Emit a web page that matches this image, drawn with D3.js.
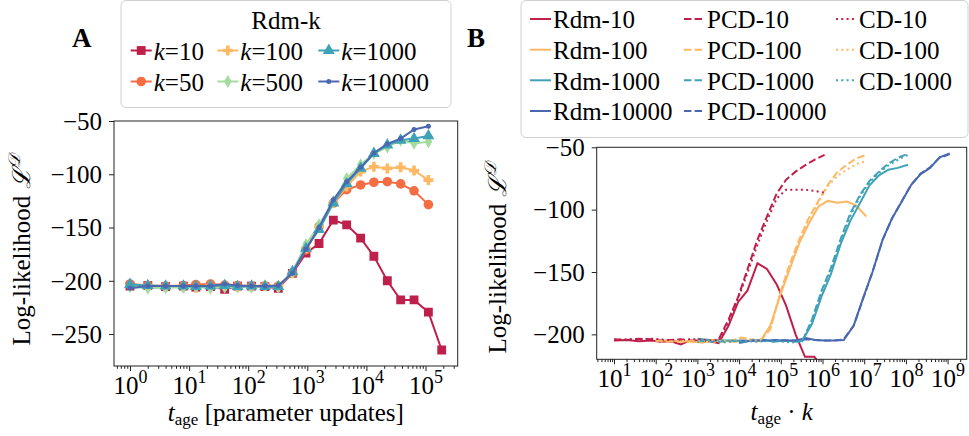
<!DOCTYPE html>
<html>
<head>
<meta charset="utf-8">
<script src="https://cdnjs.cloudflare.com/ajax/libs/d3/7.8.5/d3.min.js"></script>
<style>
  body { margin: 0; background: #fff; }
  svg text { font-family: "Liberation Serif", "Times New Roman", serif; fill: #000; }
</style>
</head>
<body>
<svg id="chart" width="969" height="436"></svg>
<script>
// ---- data ----
const tAge = [1, 2, 4, 8, 13, 23, 40, 66, 114, 192, 323, 560, 950, 1580, 2760, 4640, 7990, 13400, 22600, 38000, 64000, 112000, 188000];
const kValues = [10, 50, 100, 500, 1000, 10000];

const rdm10 = [-205, -204.5, -205.5, -205, -206, -205.5, -208, -205, -205, -205.5, -207, -193, -174, -165, -143, -147.5, -160, -177, -200, -218, -218, -229.5, -265];
const rdm50 = [-203, -204.5, -205, -204.5, -203.5, -203, -204, -204.5, -205, -204.5, -205, -192.5, -171, -149, -127, -114.5, -110, -107.5, -107, -109, -115.5, -128.5];
const rdm100 = [-205, -205, -205.5, -206, -206.5, -205, -205, -206, -205.5, -205, -205.5, -193, -169.5, -149, -127, -111.5, -97.5, -93, -94.5, -93.5, -96.5, -105.5];
const rdm500 = [-205.5, -207, -206.5, -206, -205.5, -207, -206, -205.5, -206, -204.5, -206, -191.5, -166, -147.5, -125.5, -104, -91, -80.5, -74.5, -68, -71, -69.5];
const rdm1000 = [-203.5, -204.5, -205, -205, -205.5, -205, -204.5, -205.5, -205, -205.5, -205.5, -191.5, -169.5, -152, -127, -109, -94.5, -80.5, -72.5, -68, -66.5, -64];
const rdm10000 = [-207, -205, -205, -205, -205, -205, -203, -204.5, -205, -205, -204.5, -193, -170.5, -150, -124, -107, -93.5, -80, -71.5, -66.5, -58, -55];

const pcd10 = [-204, -204.5, -203.5, -204, -205, -204.5, -204, -205, -205.5, -205, -204, -188, -170, -148, -124, -105.5, -87, -76, -69.5, -64.5, -60, -56];
const cd10 = [-204.5, -204, -204, -203.5, -204, -205, -204.5, -204, -204, -205, -205, -190, -171, -151, -128, -109, -91, -84, -84, -84, -85, -86.5];
const pcd100 = [-205, -205.5, -206, -205, -206.5, -204.5, -206, -205, -202.5, -204, -205, -196, -168, -145, -124, -107, -93, -80, -70, -64, -59, -56];
const cd100 = [-205.5, -206, -205, -206, -205, -206.5, -205, -206, -203, -205, -204.5, -195, -168, -146, -125, -108, -94, -81, -73, -68, -63.5, -61];
const pcd1000 = [-205, -206, -205.5, -205, -206, -204.5, -205, -206, -205, -205.5, -206, -188, -165, -147, -123, -103, -88, -77, -69.5, -63, -58.5, -55];
const cd1000 = [-206, -205, -206.5, -205.5, -205, -206, -205.5, -205, -206, -206.5, -205, -190, -166, -149, -125, -105, -89, -78, -70.5, -64.5, -60, -56];
const pcd10000 = [-205, -205, -205, -204.5, -205, -205, -204, -204.5, -205, -205, -204, -193, -171, -150, -124.5, -107, -93, -80, -71, -66, -58.5, -55.5];

const yTicksA = [-250, -200, -150, -100, -50];
const yTicksB = [-200, -150, -100, -50];
const expTicksA = [0, 1, 2, 3, 4, 5];
const expTicksB = [1, 2, 3, 4, 5, 6, 7, 8, 9];

const colors = ['#be1f4b', '#f46d43', '#fdb863', '#a6db9f', '#3fa2b7', '#4a68b0'];
const markers = ['square', 'circle', 'plus', 'diamond', 'triangle', 'dot'];

const rdmSeries = [rdm10, rdm50, rdm100, rdm500, rdm1000, rdm10000];

const svg = d3.select('#chart');

// ---- helpers ----
function markerPath(type) {
    if (type === 'square') return d3.symbol(d3.symbolSquare, 78)();
    if (type === 'circle') return d3.symbol(d3.symbolCircle, 72)();
    if (type === 'triangle') return d3.symbol(d3.symbolTriangle, 62)();
    if (type === 'dot') return d3.symbol(d3.symbolCircle, 20)();
    if (type === 'diamond') return 'M0,-6.5L3.8,0L0,6.5L-3.8,0Z';
    // filled plus ("P")
    const a = 5, b = 1.8;
    return `M${-b},${-a}H${b}V${-b}H${a}V${b}H${b}V${a}H${-b}V${b}H${-a}V${-b}H${-b}Z`;
}

function drawFrame(p) {
    svg.append('rect')
        .attr('x', p.left).attr('y', p.top)
        .attr('width', p.right - p.left).attr('height', p.bottom - p.top)
        .attr('fill', 'none').attr('stroke', '#222').attr('stroke-width', 1);
}

function logAxis(p, x, exps) {
    const lo = x.domain()[0], hi = x.domain()[1];
    const minors = [];
    for (let e = Math.floor(Math.log10(lo)); e <= Math.ceil(Math.log10(hi)); e++) {
        for (let m = 2; m <= 9; m++) {
            const v = m * Math.pow(10, e);
            if (v >= lo && v <= hi) minors.push(v);
        }
    }
    const gMin = svg.append('g').attr('transform', `translate(0,${p.bottom})`)
        .call(d3.axisBottom(x).tickValues(minors).tickSize(2.8).tickFormat(''));
    gMin.select('.domain').remove();

    const g = svg.append('g').attr('transform', `translate(0,${p.bottom})`)
        .call(d3.axisBottom(x).tickValues(exps.map(e => Math.pow(10, e))).tickSize(5));
    g.attr('font-family', null).attr('font-size', null);
    g.select('.domain').remove();
    g.selectAll('.tick text').each(function (d) {
        const t = d3.select(this);
        const e = Math.round(Math.log10(d));
        t.text(null).attr('y', 28).attr('dy', null)
            .attr('font-size', 25).attr('fill', '#000');
        t.append('tspan').text('10');
        t.append('tspan').attr('dy', -11).attr('font-size', 18).text(e);
    });
    svg.selectAll('.tick line').attr('stroke', '#222');
}

function yAxis(p, y, ticks) {
    const g = svg.append('g').attr('transform', `translate(${p.left},0)`)
        .call(d3.axisLeft(y).tickValues(ticks).tickSize(5).tickPadding(7).tickFormat(d3.format('d')));
    g.attr('font-family', null).attr('font-size', null);
    g.select('.domain').remove();
    g.selectAll('.tick text').attr('font-size', 25).attr('fill', '#000').attr('dy', '0.33em');
    g.selectAll('.tick line').attr('stroke', '#222');
}

function yLabel(x, yc) {
    const t = svg.append('text')
        .attr('transform', `translate(${x},${yc}) rotate(-90)`)
        .attr('text-anchor', 'middle').attr('font-size', 25);
    t.append('tspan').text('Log-likelihood ');
    t.append('tspan').attr('font-style', 'italic').text('\u2112');
    t.append('tspan').attr('dy', -10).attr('font-size', 17).attr('font-style', 'italic').text('\uD835\uDC9F');
}

// ---- panel A ----
const pA = { left: 114, right: 457.7, top: 121, bottom: 366 };
const xA = d3.scaleLog().domain([Math.pow(10, -0.2707), Math.pow(10, 5.545)]).range([pA.left, pA.right]);
const yA = d3.scaleLinear().domain([-280, -50]).range([pA.bottom, pA.top]);

svg.append('clipPath').attr('id', 'clipA').append('rect')
    .attr('x', pA.left).attr('y', pA.top).attr('width', pA.right - pA.left).attr('height', pA.bottom - pA.top);

const gA = svg.append('g').attr('clip-path', 'url(#clipA)');
const lineA = d3.line().x(d => xA(d[0])).y(d => yA(d[1]));

rdmSeries.forEach((vals, i) => {
    const pts = vals.map((v, j) => [tAge[j], v]);
    const g = gA.append('g');
    g.append('path').attr('d', lineA(pts)).attr('fill', 'none')
        .attr('stroke', colors[i]).attr('stroke-width', 2);
    g.selectAll('path.m').data(pts).enter().append('path')
        .attr('class', 'm')
        .attr('d', markerPath(markers[i]))
        .attr('transform', d => `translate(${xA(d[0])},${yA(d[1])})`)
        .attr('fill', colors[i]);
});

drawFrame(pA);
logAxis(pA, xA, expTicksA);
yAxis(pA, yA, yTicksA);
yLabel(30, 250);

const xlA = svg.append('text').attr('x', (pA.left + pA.right) / 2).attr('y', 421)
    .attr('text-anchor', 'middle').attr('font-size', 25);
xlA.append('tspan').attr('font-style', 'italic').text('t');
xlA.append('tspan').attr('font-size', 17).attr('dy', 4).text('age');
xlA.append('tspan').attr('dy', -4).text(' [parameter updates]');

svg.append('text').attr('x', 72).attr('y', 47).attr('font-size', 27).attr('font-weight', 'bold').text('A');

// legend A
svg.append('rect').attr('x', 121).attr('y', 0.5).attr('width', 330).attr('height', 107).attr('rx', 5)
    .attr('fill', '#fff').attr('fill-opacity', 0.8).attr('stroke', '#d0d0d0');
svg.append('text').attr('x', 286).attr('y', 28.5).attr('text-anchor', 'middle').attr('font-size', 25).text('Rdm-k');
const legColsA = [130.7, 217.3, 318.3];
const legRowsA = [50.5, 81.5];
kValues.forEach((k, i) => {
    const cx = legColsA[Math.floor(i / 2)], cy = legRowsA[i % 2];
    svg.append('line').attr('x1', cx).attr('x2', cx + 21).attr('y1', cy).attr('y2', cy)
        .attr('stroke', colors[i]).attr('stroke-width', 2);
    svg.append('path').attr('d', markerPath(markers[i]))
        .attr('transform', `translate(${cx + 10.5},${cy})`).attr('fill', colors[i]);
    const t = svg.append('text').attr('x', cx + 23).attr('y', cy + 9.5).attr('font-size', 25);
    t.append('tspan').attr('font-style', 'italic').text('k');
    t.append('tspan').text('=' + k);
});

// ---- panel B ----
const pB = { left: 596.7, right: 966.7, top: 147.3, bottom: 359.3 };
const xB = d3.scaleLog().domain([Math.pow(10, 0.585), Math.pow(10, 9.458)]).range([pB.left, pB.right]);
const yB = d3.scaleLinear().domain([-220, -50]).range([pB.bottom, pB.top]);

svg.append('clipPath').attr('id', 'clipB').append('rect')
    .attr('x', pB.left).attr('y', pB.top).attr('width', pB.right - pB.left).attr('height', pB.bottom - pB.top);
const gB = svg.append('g').attr('clip-path', 'url(#clipB)');
const lineB = d3.line().x(d => xB(d[0])).y(d => yB(d[1]));

const dashes = { solid: null, dashed: '7.4,3.2', dotted: '2,3.3' };
const seriesB = [
    { name: 'Rdm-10', k: 10, vals: rdm10, color: colors[0], style: 'solid' },
    { name: 'Rdm-100', k: 100, vals: rdm100, color: colors[2], style: 'solid' },
    { name: 'Rdm-1000', k: 1000, vals: rdm1000, color: colors[4], style: 'solid' },
    { name: 'Rdm-10000', k: 10000, vals: rdm10000, color: colors[5], style: 'solid' },
    { name: 'PCD-10', k: 10, vals: pcd10, color: colors[0], style: 'dashed' },
    { name: 'PCD-100', k: 100, vals: pcd100, color: colors[2], style: 'dashed' },
    { name: 'PCD-1000', k: 1000, vals: pcd1000, color: colors[4], style: 'dashed' },
    { name: 'PCD-10000', k: 10000, vals: pcd10000, color: colors[5], style: 'dashed' },
    { name: 'CD-10', k: 10, vals: cd10, color: colors[0], style: 'dotted' },
    { name: 'CD-100', k: 100, vals: cd100, color: colors[2], style: 'dotted' },
    { name: 'CD-1000', k: 1000, vals: cd1000, color: colors[4], style: 'dotted' }
];

seriesB.forEach(s => {
    const pts = s.vals.map((v, j) => [tAge[j] * s.k, v]);
    gB.append('path').attr('d', lineB(pts)).attr('fill', 'none')
        .attr('stroke', s.color).attr('stroke-width', 2)
        .attr('stroke-dasharray', dashes[s.style]);
});

drawFrame(pB);
logAxis(pB, xB, expTicksB);
yAxis(pB, yB, yTicksB);
yLabel(506, 258);

const xlB = svg.append('text').attr('x', (pB.left + pB.right) / 2).attr('y', 420)
    .attr('text-anchor', 'middle').attr('font-size', 25);
xlB.append('tspan').attr('font-style', 'italic').text('t');
xlB.append('tspan').attr('font-size', 17).attr('dy', 4).text('age');
xlB.append('tspan').attr('dy', -4).text(' \u00B7 ');
xlB.append('tspan').attr('font-style', 'italic').text('k');

svg.append('text').attr('x', 467).attr('y', 47).attr('font-size', 27).attr('font-weight', 'bold').text('B');

// legend B
svg.append('rect').attr('x', 521).attr('y', 0.5).attr('width', 447).attr('height', 137).attr('rx', 5)
    .attr('fill', '#fff').attr('fill-opacity', 0.8).attr('stroke', '#d0d0d0');
const legColsB = [530, 684, 836];
const legRowsB = [19, 49.7, 80.3, 111];
seriesB.forEach((s, i) => {
    const cx = legColsB[Math.floor(i / 4)], cy = legRowsB[i % 4];
    svg.append('line').attr('x1', cx).attr('x2', cx + 21).attr('y1', cy).attr('y2', cy)
        .attr('stroke', s.color).attr('stroke-width', 2)
        .attr('stroke-dasharray', dashes[s.style]);
    svg.append('text').attr('x', cx + 23).attr('y', cy + 9.3).attr('font-size', 25).text(s.name);
});
</script>
</body>
</html>
